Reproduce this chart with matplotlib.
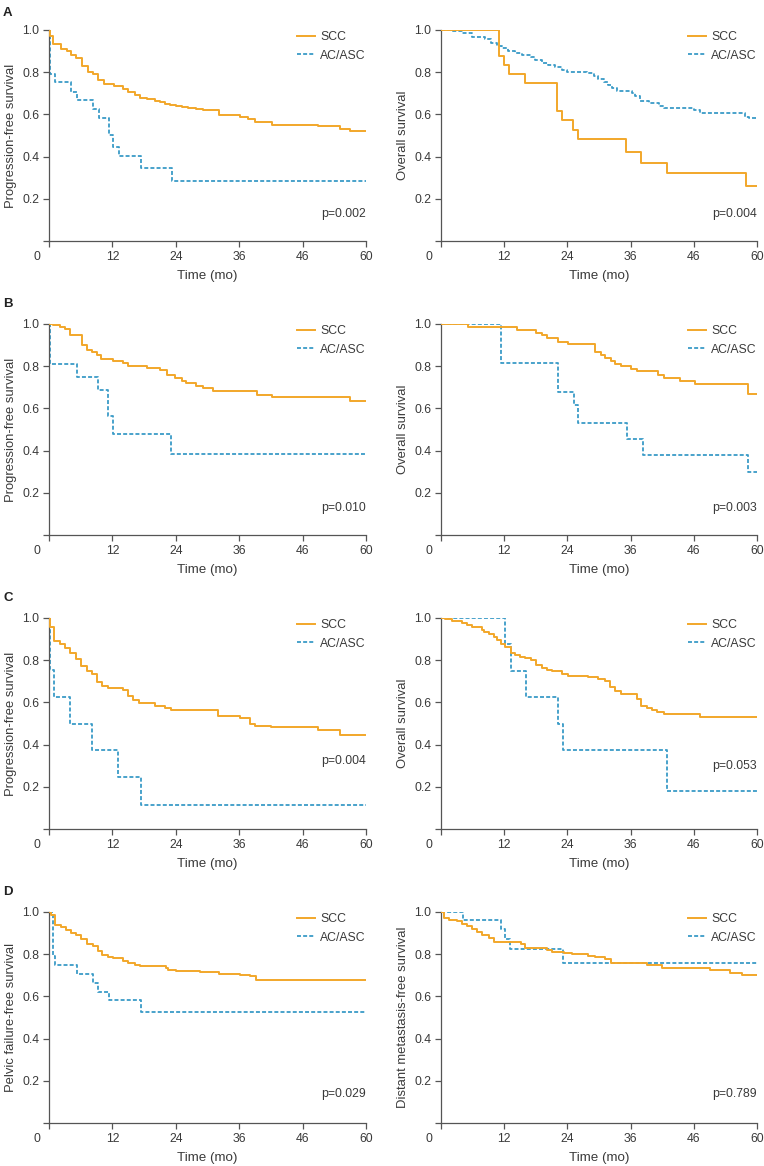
import matplotlib
matplotlib.use("Agg")
import matplotlib.pyplot as plt
import matplotlib.transforms as mtransforms

plt.rcParams['font.family'] = ['Liberation Sans', 'DejaVu Sans']

ORANGE = "#F2A72A"
BLUE = "#3A9BC7"
TEXT = "#3a3a3a"

# ---------------- data (months, survival) ----------------
# Panel A left: Progression-free survival
A_pfs_scc_t = [0, 0.13, 0.76, 2.34, 3.4, 4.2, 5.2, 6.3, 7.4, 8.3, 9.3, 10.4, 12.3, 14.0, 15.0, 16.2, 17.2,
               18.5, 20.0, 21.0, 21.9, 22.9, 24.1, 25.1, 26.4, 27.9, 29.2, 32.2, 36.2, 37.7, 39.0, 42.2,
               51.0, 55.1, 57.0]
A_pfs_scc_s = [1.0, 0.97, 0.932, 0.912, 0.90, 0.88, 0.865, 0.828, 0.801, 0.79, 0.762, 0.743, 0.735, 0.722,
               0.705, 0.691, 0.68, 0.675, 0.665, 0.66, 0.65, 0.645, 0.64, 0.635, 0.63, 0.625, 0.62, 0.598,
               0.59, 0.577, 0.565, 0.55, 0.545, 0.53, 0.522]
A_pfs_ac_t = [0, 0.13, 1.07, 4.2, 5.3, 8.3, 9.4, 11.3, 12.1, 13.2, 17.4, 23.2]
A_pfs_ac_s = [1.0, 0.79, 0.752, 0.707, 0.667, 0.626, 0.582, 0.502, 0.446, 0.404, 0.347, 0.285]

# Panel A right: Overall survival
A_os_scc_t = [0, 11.1, 12.0, 13.0, 16.0, 22.0, 23.0, 25.1, 26.0, 35.1, 37.9, 43.0, 57.9]
A_os_scc_s = [1.0, 0.875, 0.836, 0.79, 0.751, 0.615, 0.573, 0.528, 0.483, 0.424, 0.371, 0.32, 0.263]
A_os_ac_t = [0, 2.1, 4.0, 5.9, 8.4, 9.4, 10.6, 11.6, 12.8, 14.1, 15.4, 17.0, 17.9, 19.2, 20.4, 21.7, 23.0,
             23.9, 27.7, 29.0, 29.9, 30.9, 31.8, 32.5, 33.4, 36.3, 36.9, 37.8, 39.4, 41.3, 42.3, 48.0,
             49.2, 57.8, 58.4]
A_os_ac_s = [1.0, 0.995, 0.985, 0.965, 0.955, 0.94, 0.925, 0.915, 0.90, 0.89, 0.88, 0.87, 0.86, 0.845,
             0.835, 0.825, 0.81, 0.80, 0.795, 0.78, 0.77, 0.755, 0.74, 0.725, 0.71, 0.70, 0.685, 0.665,
             0.655, 0.64, 0.63, 0.62, 0.605, 0.59, 0.585]

# Panel B left
B_pfs_scc_t = [0, 0.76, 2.0, 3.0, 4.0, 6.3, 7.2, 8.2, 9.1, 9.9, 12.1, 14.0, 15.0, 18.5, 21.0, 22.3, 23.8,
               25.1, 26.0, 27.9, 29.2, 31.1, 39.3, 42.2, 56.9]
B_pfs_scc_s = [1.0, 0.995, 0.985, 0.975, 0.946, 0.902, 0.875, 0.865, 0.855, 0.836, 0.825, 0.815, 0.80,
               0.792, 0.78, 0.759, 0.745, 0.73, 0.72, 0.705, 0.695, 0.683, 0.665, 0.655, 0.636]
B_pfs_ac_t = [0, 0.13, 5.3, 9.2, 11.1, 12.1, 23.1]
B_pfs_ac_s = [1.0, 0.811, 0.748, 0.685, 0.563, 0.481, 0.383]

# Panel B right
B_os_scc_t = [0, 5.1, 14.4, 18.0, 19.1, 20.1, 22.2, 24.2, 29.2, 30.3, 31.2, 32.2, 33.1, 34.2, 36.1, 37.2,
              41.2, 42.3, 45.3, 48.2, 58.2]
B_os_scc_s = [1.0, 0.986, 0.972, 0.958, 0.947, 0.935, 0.917, 0.904, 0.866, 0.853, 0.84, 0.826, 0.812,
              0.80, 0.786, 0.775, 0.759, 0.746, 0.732, 0.715, 0.667]
B_os_ac_t = [0, 11.3, 22.2, 25.2, 26.1, 35.3, 38.3, 58.3]
B_os_ac_s = [1.0, 0.815, 0.678, 0.614, 0.532, 0.457, 0.377, 0.30]

# Panel C left
C_pfs_scc_t = [0, 0.13, 0.95, 2.0, 3.1, 3.9, 5.1, 6.1, 7.1, 8.1, 9.1, 10.1, 11.2, 14.0, 15.0, 15.9, 17.0,
               20.0, 21.9, 23.0, 32.0, 36.2, 38.1, 39.0, 42.0, 51.0, 55.1]
C_pfs_scc_s = [1.0, 0.957, 0.89, 0.875, 0.86, 0.834, 0.805, 0.771, 0.75, 0.735, 0.697, 0.68, 0.67, 0.66,
               0.632, 0.61, 0.595, 0.585, 0.575, 0.565, 0.535, 0.525, 0.50, 0.49, 0.483, 0.47, 0.445]
C_pfs_ac_t = [0, 0.13, 0.95, 4.0, 8.1, 13.1, 17.4]
C_pfs_ac_s = [1.0, 0.752, 0.626, 0.497, 0.374, 0.248, 0.115]

# Panel C right
C_os_scc_t = [0, 0.8, 2.1, 4.0, 5.0, 5.9, 7.8, 8.1, 9.1, 10.0, 10.6, 11.3, 12.2, 13.2, 14.1, 15.0, 16.0,
              17.0, 18.0, 19.1, 20.1, 21.1, 23.0, 24.2, 28.0, 29.9, 31.1, 32.0, 33.1, 34.1, 37.2, 37.9,
              39.1, 40.1, 41.1, 42.3, 49.2]
C_os_scc_s = [1.0, 0.995, 0.985, 0.975, 0.965, 0.955, 0.945, 0.935, 0.925, 0.91, 0.895, 0.875, 0.861,
              0.835, 0.825, 0.815, 0.81, 0.80, 0.779, 0.765, 0.755, 0.75, 0.735, 0.725, 0.72, 0.71, 0.70,
              0.674, 0.655, 0.639, 0.615, 0.585, 0.575, 0.565, 0.555, 0.546, 0.53]
C_os_ac_t = [0, 12.2, 13.2, 16.1, 22.2, 23.2, 43.0]
C_os_ac_s = [1.0, 0.875, 0.751, 0.625, 0.50, 0.374, 0.181]

# Panel D left: Pelvic failure-free survival
D_pf_scc_t = [0, 0.44, 1.07, 2.34, 3.2, 4.2, 5.2, 6.1, 7.2, 8.3, 9.3, 10.1, 11.2, 12.1, 14.0, 15.0, 16.2,
              17.2, 22.1, 22.6, 24.1, 28.6, 32.2, 36.2, 38.1, 39.2]
D_pf_scc_s = [1.0, 0.985, 0.94, 0.93, 0.915, 0.90, 0.89, 0.87, 0.85, 0.84, 0.815, 0.795, 0.785, 0.78,
              0.77, 0.76, 0.75, 0.745, 0.735, 0.725, 0.72, 0.715, 0.705, 0.70, 0.695, 0.678]
D_pf_ac_t = [0, 0.76, 1.2, 5.3, 8.3, 9.2, 11.3, 17.4]
D_pf_ac_s = [1.0, 0.792, 0.748, 0.707, 0.664, 0.621, 0.584, 0.524]

# Panel D right: Distant metastasis-free survival
D_dm_scc_t = [0, 0.5, 1.5, 3.0, 4.0, 4.9, 5.9, 6.8, 7.8, 9.1, 10.0, 15.1, 16.0, 20.1, 21.1, 23.3, 24.9,
              28.0, 29.3, 31.2, 32.2, 39.1, 42.0, 51.1, 54.9, 57.2]
D_dm_scc_s = [1.0, 0.97, 0.96, 0.955, 0.945, 0.935, 0.92, 0.905, 0.89, 0.875, 0.86, 0.85, 0.83, 0.82,
              0.81, 0.805, 0.80, 0.79, 0.785, 0.775, 0.76, 0.75, 0.735, 0.725, 0.71, 0.70]
D_dm_ac_t = [0, 4.1, 11.3, 12.1, 13.1, 23.1]
D_dm_ac_s = [1.0, 0.962, 0.921, 0.87, 0.823, 0.76]

panel_letters = ["A", "B", "C", "D"]
ylabels = [["Progression-free survival", "Overall survival"],
           ["Progression-free survival", "Overall survival"],
           ["Progression-free survival", "Overall survival"],
           ["Pelvic failure-free survival", "Distant metastasis-free survival"]]
pvalues = [["p=0.002", "p=0.004"], ["p=0.010", "p=0.003"], ["p=0.004", "p=0.053"], ["p=0.029", "p=0.789"]]
pval_y = [[0.13, 0.13], [0.128, 0.128], [0.32, 0.30], [0.137, 0.137]]
series = [[(A_pfs_scc_t, A_pfs_scc_s, A_pfs_ac_t, A_pfs_ac_s), (A_os_scc_t, A_os_scc_s, A_os_ac_t, A_os_ac_s)],
          [(B_pfs_scc_t, B_pfs_scc_s, B_pfs_ac_t, B_pfs_ac_s), (B_os_scc_t, B_os_scc_s, B_os_ac_t, B_os_ac_s)],
          [(C_pfs_scc_t, C_pfs_scc_s, C_pfs_ac_t, C_pfs_ac_s), (C_os_scc_t, C_os_scc_s, C_os_ac_t, C_os_ac_s)],
          [(D_pf_scc_t, D_pf_scc_s, D_pf_ac_t, D_pf_ac_s), (D_dm_scc_t, D_dm_scc_s, D_dm_ac_t, D_dm_ac_s)]]
legend_labels = ["SCC", "AC/ASC"]
x_tick_pos = [0, 12, 24, 36, 48, 60]
x_tick_labels = ["0", "12", "24", "36", "46", "60"]
y_tick_pos = [0.0, 0.2, 0.4, 0.6, 0.8, 1.0]
y_tick_labels = ["", "0.2", "0.4", "0.6", "0.8", "1.0"]
XMAX = 60

W, H = 764, 1166
fig = plt.figure(figsize=(W / 100, H / 100), dpi=100)

row_tops = [30, 324, 618, 912]
ax_h = 211
col_lefts = [49, 441]
col_widths = [317, 316]
letter_y = [7, 298, 592, 886]

FS = 8.8

def extend(t, s):
    return list(t) + [XMAX], list(s) + [s[-1]]

for r in range(4):
    fig.text(3 / W, 1 - letter_y[r] / H, panel_letters[r], fontsize=9.5, fontweight="bold",
             color="#222222", va="top", ha="left")
    for c in range(2):
        left = col_lefts[c] / W
        bottom = 1 - (row_tops[r] + ax_h) / H
        ax = fig.add_axes([left, bottom, col_widths[c] / W, ax_h / H])
        t1, s1, t2, s2 = series[r][c]
        x1, y1 = extend(t1, s1)
        x2, y2 = extend(t2, s2)
        ax.step(x1, y1, where="post", color=ORANGE, lw=1.4, label=legend_labels[0], zorder=3)
        ax.step(x2, y2, where="post", color=BLUE, lw=1.3, linestyle=(0, (2.2, 1.2)),
                label=legend_labels[1], zorder=2)
        ax.set_xlim(0, XMAX)
        ax.set_ylim(0, 1.0)
        for sp in ["top", "right"]:
            ax.spines[sp].set_visible(False)
        for sp in ["left", "bottom"]:
            ax.spines[sp].set_color("#555555")
            ax.spines[sp].set_linewidth(0.9)
        ax.set_xticks(x_tick_pos)
        ax.set_xticklabels(x_tick_labels)
        ax.set_yticks(y_tick_pos)
        ax.set_yticklabels(y_tick_labels)
        ax.tick_params(axis="both", length=4, width=0.9, color="#555555", labelsize=FS,
                       labelcolor=TEXT, pad=3)
        # shift the "0" x tick label to the left corner
        lbl0 = ax.get_xticklabels()[0]
        lbl0.set_transform(lbl0.get_transform() +
                           mtransforms.ScaledTranslation(-12 / 100, 0, fig.dpi_scale_trans))
        ax.set_xlabel("Time (mo)", fontsize=FS + 0.8, color=TEXT, labelpad=5)
        ax.set_ylabel(ylabels[r][c], fontsize=FS + 0.6, color=TEXT, labelpad=4)
        ax.text(XMAX, pval_y[r][c], pvalues[r][c], ha="right", va="center", fontsize=FS, color=TEXT)
        ax.legend(loc="upper right", bbox_to_anchor=(1.0, 0.995), frameon=False, fontsize=FS,
                  handlelength=1.5, handletextpad=0.4, labelspacing=0.55, borderaxespad=0.0,
                  borderpad=0.0, labelcolor=TEXT)

fig.savefig("out.png", dpi=100)
